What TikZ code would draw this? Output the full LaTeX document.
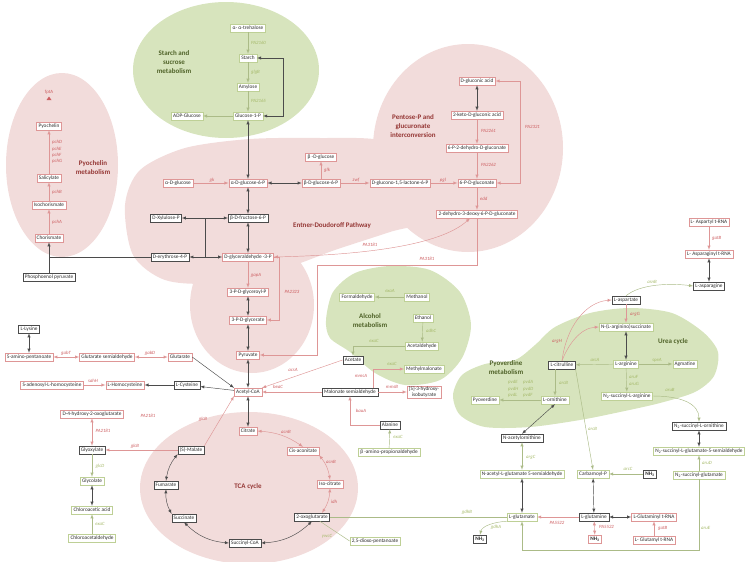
\documentclass[tikz,border=0pt]{standalone}
\usepackage{fontspec}
\setmainfont{Carlito}
\usetikzlibrary{positioning}
\definecolor{pinkbg}{RGB}{242,220,219}
\definecolor{greenbg}{RGB}{215,228,189}
\definecolor{boxred}{RGB}{222,150,150}
\definecolor{boxgreen}{RGB}{190,208,150}
\definecolor{boxdark}{RGB}{75,75,75}
\definecolor{genered}{RGB}{205,95,98}
\definecolor{genegreen}{RGB}{165,185,105}
\definecolor{ttlred}{RGB}{149,55,53}
\definecolor{ttlgreen}{RGB}{79,98,40}
\definecolor{txt}{RGB}{45,45,45}
\tikzset{
  mbox/.style={fill=white, text=txt, inner xsep=2pt, inner ysep=1pt, minimum height=8pt, line width=.35pt, font=\fontsize{5.3}{6}\selectfont},
  pbox/.style={mbox, draw=boxred},
  gbox/.style={mbox, draw=boxgreen},
  dbox/.style={mbox, draw=boxdark},
  rgene/.style={text=genered, inner sep=0pt, font=\fontsize{4.8}{6.3}\selectfont\itshape},
  ggene/.style={text=genegreen, inner sep=0pt, font=\fontsize{4.8}{6.3}\selectfont\itshape},
  rl/.style={draw=boxred, line width=.45pt},
  gl/.style={draw=boxgreen!90!black, line width=.45pt},
  dl/.style={draw=boxdark, line width=.45pt},
  ttlr/.style={text=ttlred, align=center, font=\fontsize{7}{9}\selectfont\bfseries},
  ttlg/.style={text=ttlgreen, align=center, font=\fontsize{7}{9}\selectfont\bfseries},
}
\begin{document}
\begin{tikzpicture}[x=1pt,y=-1pt]
\useasboundingbox (0,0) rectangle (750,562);
% background areas
\fill[greenbg] (226,70) ellipse[x radius=93,y radius=68];
\fill[pinkbg] (62,165) ellipse[x radius=56,y radius=92];
\fill[pinkbg] plot[smooth cycle] coordinates {(125,205) (140,170) (185,148) (250,139) (320,138) (380,140) (430,160) (440,215) (390,232) (335,250) (285,268) (215,283) (165,280) (133,255)};
\fill[pinkbg] (468,148) ellipse[x radius=95,y radius=104];
\fill[pinkbg] (252,305) ellipse[x radius=62,y radius=68];
\fill[greenbg] plot[smooth cycle] coordinates {(326,320) (333,292) (355,273) (390,266) (430,270) (460,292) (471,325) (462,358) (440,380) (405,385) (375,373) (350,352) (330,338)};
\fill[greenbg] plot[smooth cycle] coordinates {(453,395) (462,375) (485,364) (515,360) (535,345) (555,327) (590,313) (630,308) (672,313) (703,332) (718,352) (714,376) (695,392) (660,403) (620,412) (580,420) (530,427) (485,427) (460,415)};
\fill[pinkbg] (249,488) ellipse[x radius=109,y radius=76];

% titles
\node[ttlg] at (174,62) {Starch and\\sucrose\\metabolism};
\node[ttlr] at (93,168) {Pyochelin\\metabolism};
\node[ttlr] at (332,226) {Entner-Doudoroff Pathway};
\node[ttlr] at (413,126) {Pentose-P and\\glucuronate\\interconversion};
\node[ttlg] at (370,321) {Alcohol\\metabolism};
\node[ttlg] at (506,368) {Pyoverdine\\metabolism};
\node[ttlg] at (673,342) {Urea cycle};
\node[ttlr] at (248,487) {TCA cycle};

% starch and sucrose
\node[gbox] (tre) at (248,28) {α- α-trehalose};
\node[gbox] (starch) at (248,58) {Starch};
\node[gbox] (amyl) at (248,87) {Amylose};
\node[gbox] (g1p) at (248,116) {Glucose-1-P};
\node[gbox] (adpg) at (187,116) {ADP-Glucose};
\draw[gl,-latex] (tre) -- (starch);
\draw[gl,-latex] (starch) -- (amyl);
\draw[gl,-latex] (amyl) -- (g1p);
\draw[gl,-latex] (g1p) -- (adpg);
\draw[dl,latex-latex] (g1p.east) -- ++(20,0) |- (starch.east);
\node[ggene,anchor=west] at (251,43) {PA2160};
\node[ggene,anchor=west] at (251,72) {glgB};
\node[ggene,anchor=west] at (251,101) {PA2165};

% pyochelin
\node[text=genered,inner sep=0pt,font=\fontsize{4.8}{6}\selectfont] (fpta) at (49,92) {fptA};
\fill[genered] (46.5,100) -- (51.5,100) -- (49,96.5) -- cycle;
\node[pbox] (pch) at (49,126) {Pyochelin};
\node[pbox] (sal) at (49,178) {Salicylate};
\node[pbox] (isoc) at (49,205) {Isochorismate};
\node[pbox] (chor) at (49,238) {Chorismate};
\node[dbox] (pep) at (49,277) {Phosphoenol pyruvate};
\draw[rl,-latex] (sal) -- (pch);
\draw[rl,-latex] (isoc) -- (sal);
\draw[rl,-latex] (chor) -- (isoc);
\draw[dl,-latex] (pep) -- (chor);
\node[rgene,anchor=west,align=left] at (52,152) {pchD\\pchE\\pchF\\pchG};
\node[rgene,anchor=west] at (52,192) {pchB};
\node[rgene,anchor=west] at (52,222) {pchA};

% glycolysis / Entner-Doudoroff
\node[pbox] (ag) at (178,183) {α-D-glucose};
\node[pbox] (ag6p) at (248,183) {α-D-glucose-6-P};
\node[pbox] (bg6p) at (321,183) {β-D-glucose-6-P};
\node[pbox] (bg) at (321,157) {β -D-glucose};
\node[pbox] (dgl) at (400,183) {D-glucono-1,5-lactone-6-P};
\node[pbox] (pgn) at (477,183) {6-P-D-gluconate};
\node[pbox] (gna) at (477,81) {D-gluconic acid};
\node[pbox] (kga) at (477,115) {2-keto-D-gluconic acid};
\node[pbox] (pdg) at (477,148) {6-P-2-dehydro-D-gluconate};
\node[pbox] (kdpg) at (477,214) {2-dehydro-3-deoxy-6-P-D-gluconate};
\node[dbox] (xu5p) at (166,218) {D-Xylulose-P};
\node[dbox] (bf6p) at (248,218) {β-D-fructose-6-P};
\node[dbox] (e4p) at (170,257) {D-erythrose-4-P};
\node[pbox] (gap) at (248,257) {D-glyceraldehyde -3-P};
\node[pbox] (bpg) at (248,292) {3-P-D-glyceroyl-P};
\node[pbox] (pga) at (248,320) {3-P-D-glycerate};
\node[pbox] (pyr) at (248,355) {Pyruvate};
\coordinate (pepj) at (pep |- e4p);
\draw[dl] (e4p) -- (pepj);
\draw[rl,-latex] (ag) -- (ag6p);
\draw[dl,latex-latex] (g1p) -- (ag6p);
\draw[dl,latex-latex] (ag6p) -- (bg6p);
\draw[rl,-latex] (bg6p) -- (bg);
\draw[rl,-latex] (bg6p) -- (dgl);
\draw[rl,-latex] (dgl) -- (pgn);
\draw[dl,latex-latex] (gna) -- (kga);
\draw[rl,-latex] (kga) -- (pdg);
\draw[rl,-latex] (pdg) -- (pgn);
\draw[rl,latex-latex] (gna.east) -- ++(25,0) |- (pgn.east);
\draw[rl,-latex] (pgn) -- (kdpg);
\draw[dl,latex-latex] (ag6p) -- (bf6p);
\draw[dl,latex-latex] (bf6p) -- (gap);
\draw[dl,latex-latex] (xu5p) -- (bf6p);
\draw[dl,latex-latex] (e4p) -- (gap);
\coordinate (tk1) at (205,218);
\coordinate (tk2) at (205,257);
\draw[dl] (tk1) -- (tk2);
\draw[rl,-latex] (gap) -- (bpg);
\draw[dl,latex-latex] (bpg) -- (pga);
\draw[dl,latex-latex] (pga) -- (pyr);
\draw[rl,-latex] (gap.east) -- ++(6,0) |- (pga.east);
\draw[rl,latex-latex] (gap.east) .. controls (360,255) and (440,246) .. ([xshift=-7pt]kdpg.south);
\coordinate (edbend) at (317,265);
\draw[rl,-latex] (kdpg.south) |- (edbend) |- (pyr.east);
\node[rgene] at (212,180) {gk};
\node[rgene,anchor=west] at (324,170) {glk};
\node[rgene] at (356,180) {zwf};
\node[rgene] at (443,180) {pgl};
\node[rgene,anchor=west] at (481,131) {PA2261};
\node[rgene,anchor=west] at (481,165) {PA2262};
\node[rgene,anchor=west] at (525,127) {PA2321};
\node[rgene,anchor=west] at (480,199) {edd};
\node[rgene] at (256,275) {gapA};
\node[rgene] at (292,292) {PA2323};
\node[rgene] at (370,245) {PA3181};
\node[rgene] at (427,259) {PA3181};

% lysine and cysteine
\node[dbox] (lys) at (29,329) {L-Lysine};
\node[pbox] (ava) at (29,357) {5-amino-pentanoate};
\node[pbox] (gsa) at (107,357) {Glutarate semialdehyde};
\node[pbox] (glut) at (180,357) {Glutarate};
\node[pbox] (sah) at (52,385) {S-adenosyl-L-homocysteine};
\node[pbox] (hcy) at (125,385) {L-Homocysteine};
\node[dbox] (cys) at (187,385) {L-Cysteine};
\node[pbox] (accoa) at (248,392) {Acetyl-CoA};
\draw[dl,latex-latex] (lys) -- (ava);
\draw[rl,latex-latex] (ava) -- (gsa);
\draw[rl,latex-latex] (gsa) -- (glut);
\draw[rl,-latex] (sah) -- (hcy);
\draw[dl,-latex] (cys) -- (hcy);
\draw[dl,latex-latex] (pyr) -- (accoa);
\draw[dl,-latex] (glut.east) -- (accoa.north west);
\draw[dl,-latex] (accoa) -- (cys);
\node[rgene] at (66,353) {gabT};
\node[rgene] at (150,353) {gabD};
\node[rgene] at (93,381) {sahH};

% alcohol metabolism
\node[gbox] (fald) at (357,297) {Formaldehyde};
\node[gbox] (meoh) at (417,297) {Methanol};
\node[gbox] (etoh) at (423,318) {Ethanol};
\node[gbox] (acald) at (422,346) {Acetaldehyde};
\node[dbox] (acet) at (353,360) {Acetate};
\node[gbox] (mma) at (424,369) {Methylmalonate};
\node[dbox] (msa) at (350,392) {Malonate semialdehyde};
\node[pbox,align=center,font=\fontsize{5.3}{5.8}\selectfont] (hib) at (424,392) {[S]-3-hydroxy-\\isobutyrate};
\node[dbox] (ala) at (390,425) {Alanine};
\node[gbox] (bap) at (389,452) {β -amino-propionaldehyde};
\draw[gl,-latex] (meoh) -- (fald);
\draw[gl,-latex] (etoh) -- (acald);
\draw[gl,-latex] (acald.west) -| (acet.north);
\draw[rl,-latex] (acet.west) -- (accoa.north east);
\draw[rl,-latex] (msa) -- (accoa);
\draw[rl,-latex] ([xshift=-5pt]msa.north east) |- (mma.west);
\draw[rl,-latex] (msa) -- (hib);
\draw[rl,-latex] (ala.west) -| (msa.south);
\draw[gl,-latex] (bap) -- (ala);
\node[ggene] at (390,291) {exaA};
\node[ggene,anchor=west] at (426,331) {adhC};
\node[ggene] at (374,341) {exaC};
\node[rgene] at (293,370) {acsA};
\node[rgene] at (278,387) {beaC};
\node[rgene] at (361,376) {mmsA};
\node[ggene] at (392,364) {exaC};
\node[rgene] at (392,387) {mmsB};
\node[rgene] at (361,411) {bauA};
\node[ggene] at (398,437) {exaC};

% TCA cycle
\node[pbox] (cit) at (248,431) {Citrate};
\node[pbox] (cis) at (303,451) {Cis-aconitate};
\node[pbox] (icit) at (330,484) {Iso-citrate};
\node[dbox] (akg) at (312,517) {2-oxoglutarate};
\node[dbox] (sucoa) at (245,543) {Succinyl-CoA};
\node[dbox] (succ) at (184,518) {Succinate};
\node[dbox] (fum) at (166,485) {Fumarate};
\node[dbox] (mal) at (191,450) {(S)-Malate};
\draw[dl,latex-latex] (accoa) -- (cit);
\draw[rl,latex-latex] (cit.east) to[bend left=15] (cis.north);
\draw[rl,latex-latex] (cis.south east) to[bend left=15] (icit.north);
\draw[rl,latex-latex] (icit.south) to[bend left=15] ([xshift=10pt]akg.north);
\draw[dl,latex-latex] (akg.south) to[bend left=20] (sucoa.east);
\draw[dl,latex-latex] (sucoa.west) to[bend left=20] (succ.south);
\draw[dl,latex-latex] (succ.north west) to[bend left=15] (fum.south);
\draw[dl,latex-latex] (fum.north) to[bend left=15] (mal.south west);
\draw[rl,-latex] (mal.north east) -- (accoa.south west);
\node[rgene] at (286,432) {acnB};
\node[rgene] at (331,462) {acnB};
\node[rgene] at (334,502) {idh};
\node[rgene] at (203,419) {glcB};

% glyoxylate branch
\node[pbox] (hog) at (92,414) {D-4-hydroxy-2-oxoglutarate};
\node[dbox] (glx) at (92,450) {Glyoxylate};
\node[gbox] (glc) at (92,481) {Glycolate};
\node[gbox] (cla) at (92,510) {Chloroacetic acid};
\node[gbox] (clad) at (92,538) {Chloroacetaldehyde};
\draw[rl,latex-latex] (hog) -- (glx);
\draw[rl,-latex] (mal) -- (glx);
\draw[gl,-latex] (glx) -- (glc);
\draw[dl,latex-latex] (glc) -- (cla);
\draw[gl,-latex] (clad) -- (cla);
\node[rgene] at (148,416) {PA2181};
\node[rgene] at (103,431) {PA2181};
\node[rgene] at (135,446) {glcB};
\node[ggene] at (100,466) {glcD};
\node[ggene] at (100,524) {exaC};

% asparagine and urea cycle
\node[pbox] (asptrna) at (709,222) {L- Aspartyl t-RNA};
\node[pbox] (asntrna) at (709,254) {L- Asparaginyl t-RNA};
\node[dbox] (asn) at (709,286) {L-asparagine};
\node[dbox] (asp) at (626,300) {L-aspartate};
\node[gbox] (asuc) at (626,327) {N-(L-arginino)succinate};
\node[dbox] (lcit) at (562,365) {L-citrulline};
\node[gbox] (arg) at (626,364) {L-arginine};
\node[gbox] (agm) at (685,364) {Agmatine};
\node[gbox] (sarg) at (627,396) {N\textsubscript{2}-succinyl-L-arginine};
\node[dbox] (sorn) at (699,426) {N\textsubscript{2}-succinyl-L-ornithine};
\node[gbox] (ssal) at (699,451) {N\textsubscript{2}-succinyl-L-glutamate-5-semialdehyde};
\node[gbox] (sglu) at (699,475) {N\textsubscript{2}-succinyl-glutamate};
\draw[rl,-latex] (asptrna) -- (asntrna);
\draw[dl,latex-latex] (asntrna) -- (asn);
\draw[gl,-latex] (asp.north) .. controls (640,284) and (670,283) .. (asn.west);
\draw[rl,-latex] (asp) -- (asuc);
\draw[rl,-latex] (lcit.north) .. controls (566,328) and (585,302) .. (asp.west);
\draw[rl,-latex] (lcit.north) .. controls (568,345) and (580,328) .. (asuc.west);
\draw[dl,latex-latex] (asuc) -- (arg);
\draw[gl,-latex] (arg) -- (lcit);
\draw[gl,-latex] (arg) -- (agm);
\draw[gl,-latex] (arg) -- (sarg);
\draw[gl,-latex] (sarg.east) .. controls (682,396) and (699,404) .. (sorn.north);
\draw[dl,latex-latex] (sorn) -- (ssal);
\draw[gl,-latex] (sglu) -- (ssal);
\node[rgene,anchor=west] at (712,238) {gatB};
\node[ggene] at (652,282) {asnB};
\node[rgene,anchor=west] at (630,314) {argG};
\node[rgene,anchor=east] at (562,341) {argH};
\node[ggene] at (595,360) {arcA};
\node[ggene] at (657,360) {speA};
\node[ggene,anchor=west,align=left] at (629,380.5) {aruF\\aruG};
\node[ggene] at (670,390) {aruB};
\node[ggene,anchor=west] at (702,463) {aruD};

% pyoverdine and glutamate
\node[gbox] (pvd) at (485,400) {Pyoverdine};
\node[gbox] (orn) at (555,400) {L-ornithine};
\node[dbox] (naorn) at (522,438) {N-acetylornithine};
\node[gbox] (nags) at (522,474) {N-acetyl-L-glutamate 5-semialdehyde};
\node[gbox] (lglu) at (522,517) {L-glutamate};
\node[dbox,font=\fontsize{5.3}{6}\selectfont\bfseries] (nh3a) at (480,539) {NH\textsubscript{3}};
\node[gbox] (dop) at (375,541) {2,5-dioxo-pentanoate};
\node[dbox] (gln) at (594,517) {L-glutamine};
\node[pbox,font=\fontsize{5.3}{6}\selectfont\bfseries] (nh3b) at (595,539) {NH\textsubscript{3}};
\node[pbox] (glntrna) at (654,517) {L-Glutaminyl t-RNA};
\node[pbox] (glutrna) at (654,540) {L- Glutamyl t-RNA};
\node[gbox] (cbp) at (593,474) {Carbamoyl-P};
\node[dbox,font=\fontsize{5.3}{6}\selectfont\bfseries] (nh3c) at (650,474) {NH\textsubscript{3}};
\draw[gl,-latex] (orn) -- (pvd);
\draw[gl,-latex] (lcit.south -| orn.north) -- (orn.north);
\draw[dl,latex-latex] (orn.south) -- (naorn.north);
\draw[gl,latex-latex] (naorn) -- (nags);
\draw[dl,latex-latex] (nags) -- (lglu);
\draw[gl] (akg) -- (lglu);
\draw[gl,-latex] (lglu.south west) .. controls (494,522) and (482,526) .. (nh3a.north);
\draw[gl] ([xshift=-10pt]akg.south east) -- (dop.west);
\draw[rl,-latex] (gln) -- (lglu);
\draw[rl,latex-latex] (gln) -- (nh3b);
\draw[dl,latex-latex] (gln) -- (glntrna);
\draw[rl,-latex] (glutrna) -- (glntrna);
\draw[gl,-latex] (nh3c) -- (cbp);
\draw[dl,latex-latex] (cbp) -- (gln);
\draw[gl,-latex] (lcit.south east) -- (cbp.north);
\draw[gl,-latex] (sglu.south) -- ++(0,71) -| (lglu.south);
\node[ggene,anchor=west,align=left] at (508,389) {pvdE\\pvdH\\pvdL};
\node[ggene,anchor=west,align=left] at (523,389) {pvdA\\pvdD\\pvdF};
\node[ggene,anchor=west] at (559,383) {arcB};
\node[ggene,anchor=west] at (526,457) {argC};
\node[ggene] at (467,512) {gdhB};
\node[ggene] at (496,527) {gdhA};
\node[ggene] at (327,536) {ywcC};
\node[rgene] at (557,523) {PA5522};
\node[rgene,anchor=west] at (599,527) {PA5522};
\node[rgene,anchor=west] at (658,528) {gatB};
\node[ggene] at (628,469) {arcC};
\node[ggene,anchor=west] at (588,429) {arcB};
\node[ggene,anchor=west] at (701,528) {aruE};
\end{tikzpicture}
\end{document}
